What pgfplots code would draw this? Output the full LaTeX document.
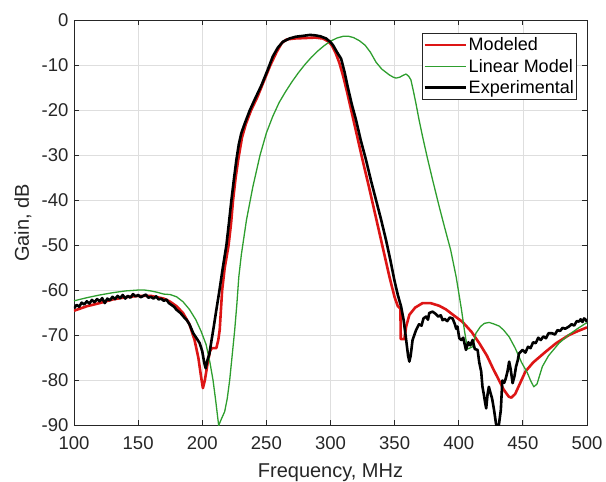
\documentclass[border=0pt]{standalone}
\usepackage{fontspec}
\setmainfont{Liberation Sans}
\usepackage{pgfplots}
\pgfplotsset{compat=1.18}
\definecolor{axisgray}{HTML}{262626}
\definecolor{mred}{HTML}{DD1515}
\definecolor{mgreen}{HTML}{2E9E2E}
\begin{document}
\begin{tikzpicture}
\useasboundingbox (-74pt,-56.5pt) rectangle (532pt,425.5pt);
\begin{axis}[
  at={(0,0)}, anchor=south west,
  scale only axis, width=513pt, height=405pt,
  xmin=100, xmax=500, ymin=-90, ymax=0,
  xtick={100,150,...,500}, ytick={-90,-80,...,0},
  grid=major,
  major grid style={draw=black!13, line width=0.6pt},
  axis line style={draw=axisgray, line width=0.8pt},
  tick style={draw=axisgray, line width=0.8pt},
  tick align=inside, major tick length=5pt,
  /pgf/number format/assume math mode=true,
  tick label style={font=\fontsize{18.5}{18.5}\selectfont, text=axisgray},
  xticklabel style={anchor=base, yshift=-24.5pt},
  yticklabel style={xshift=-2pt},
  label style={font=\fontsize{20}{20}\selectfont, text=axisgray},
  xlabel={Frequency, MHz},
  ylabel={Gain, dB},
  xlabel style={at={(axis description cs:0.5,-0.1296)}, anchor=base},
  ylabel style={at={(axis description cs:-0.0994,0.5)}, anchor=center},
  legend style={at={(rel axis cs:1,1)}, anchor=north east, xshift=-10pt, yshift=-12.5pt,
    draw=axisgray, line width=0.8pt, fill=white,
    font=\fontsize{18}{18}\selectfont, inner sep=1pt, row sep=0pt,
    nodes={inner xsep=1.8pt, inner ysep=3.4pt}},
  legend cell align=left,
  legend image code/.code={\draw[#1] (0pt,0pt) -- (41pt,0pt);},
  every axis plot/.append style={line join=round},
]
\addplot[mred, line width=2.6pt] table {
x y
100 -64.5
110 -63.5
120 -62.8
130 -62.0
140 -61.5
150 -61.2
160 -61.2
170 -61.8
175 -62.5
180 -63.5
185 -65.0
190 -67.5
194 -71
197 -75
199 -79
200.5 -81.7
202 -80
204 -76.5
206 -73.5
207.5 -72.8
211 -72.8
212.5 -71
213.6 -68.8
215.5 -60
217.5 -55
220.5 -50
222.5 -45
224 -40
226 -35
228 -31
231 -26
234 -23
238 -20
243 -17
248 -13.5
253 -10
258 -7
262 -5
266 -4.2
272 -4.0
280 -3.9
288 -3.8
294 -4.0
298 -4.6
301 -5.5
304 -7.2
307 -9.5
310 -12.5
313 -16
317 -21
321 -26
325 -31
330 -37
334 -42
338 -47
342 -52
346 -57
350 -61.5
352.5 -63.5
354.5 -64
354.8 -70.8
357.6 -70.8
359 -68
361.5 -65.4
366 -63.8
371.8 -62.8
378 -62.8
384.8 -63.4
390 -64.2
396 -65.5
403 -67
410 -69.2
416 -71.7
422 -74.5
427 -77.5
431.5 -80
435 -82
439 -83.6
441 -83.8
444 -83
448 -80.5
452 -78
458 -76
467.8 -73.6
476 -71.7
486 -69.9
493 -69
500 -68.2
};
\addlegendentry{Modeled}
\addplot[mgreen, line width=1.3pt] table {
x y
100 -62.3
110 -61.6
120 -61.0
130 -60.5
140 -60.1
150 -59.9
155 -59.9
160 -60.1
165 -60.4
170 -60.8
175 -60.9
180 -61.4
185 -62.5
190 -64.2
195 -66.5
199 -69
203 -72
206 -76
208.4 -79.9
210.5 -84.5
212.8 -90
215 -88.5
217.5 -86.9
219.5 -84
221.4 -79.9
223.3 -74.5
225.3 -68.8
227 -63
228.5 -57
230.5 -52
234.5 -44.3
239.5 -36.9
245 -30
250 -25
255 -21.3
260 -18.2
265 -15.8
270 -13.6
275 -11.6
280 -9.8
285 -8.2
290 -6.8
295 -5.6
300 -4.6
305 -3.9
310 -3.5
314 -3.5
318 -3.8
322.6 -4.5
327 -5.5
331 -7
335.6 -9.3
340 -10.8
345.9 -12.1
349 -12.6
351.1 -12.8
354 -12.6
356.5 -12.2
358.9 -11.9
361 -12.4
362.7 -13.2
364.5 -15.5
366.6 -18.4
369 -22
371.8 -25.8
375.5 -30.5
379.6 -35.4
384.8 -41.4
389 -46
393.7 -51
398 -57
402 -64
404.5 -69
406.8 -73
408.5 -72.8
410.8 -72.5
413.4 -69.5
417 -68
420 -67.3
423.7 -67.1
427 -67.4
431.5 -67.9
435 -68.8
439.3 -70.3
444 -72.8
449 -76
453.5 -78.3
456 -80
458.5 -81.4
461 -80.8
465.2 -76.9
470 -74.5
478.2 -71.7
486 -69.8
493 -68.4
499 -67.3
500 -67.2
};
\addlegendentry{Linear Model}
\addplot[black, line width=2.6pt] table {
x y
100 -64
102 -63.2
104 -63.6
106 -62.7
108 -63.1
110 -62.4
112 -62.9
114 -62.1
116 -62.6
118 -61.9
120 -62.4
122 -61.7
124 -62.8
126 -61.8
128 -62.2
130 -61.4
132 -61.9
134 -61.2
136 -61.7
138 -61.0
140 -61.8
142 -61.2
144 -61.6
146 -60.8
148 -61.3
150 -61.0
152 -61.5
154 -61.2
156 -60.9
158 -61.6
160 -61.4
162 -61.8
164 -61.3
166 -62.0
168 -61.8
170 -62.3
172 -62.0
174 -62.8
176 -63.2
178 -63.6
180 -64.3
183 -65.0
186 -66.0
188 -66.6
190 -67.5
193 -69.5
196 -70.8
198 -71.7
200 -73.5
201.5 -76
202.7 -77.3
204 -75.5
205.5 -74.2
207 -71.5
209 -68
211 -64.3
213.4 -60
216 -55
218.8 -50
220.8 -45
222.7 -40
224.6 -35.5
226.6 -31
228.5 -27.5
230.5 -25
233 -23
237 -20
241 -17.5
246 -14.5
251 -11
255 -8
259 -6
263 -4.7
268 -4.0
273 -3.6
279 -3.4
284 -3.2
288 -3.3
292 -3.5
296.6 -4.0
300 -4.8
302 -5.5
305 -7
308.3 -8.5
311 -11.5
313.4 -14.7
316.5 -18.5
319.9 -22.1
323.5 -26.5
327.7 -31
331.5 -35.5
335.5 -39.9
339.5 -44.3
343.3 -48.8
346.5 -53
349.8 -57.7
352.5 -61
355 -63.5
357 -66.5
359 -71
360.5 -74.5
361.5 -75.8
362.5 -74.5
364 -71
366.7 -68.8
369 -67.5
371 -67.8
372.5 -66.2
374.5 -65.8
376 -66.5
377 -65
379.6 -64.7
382 -65.2
384 -65.8
386 -65.5
387.4 -66.6
389 -66.3
391 -66.8
393 -66.0
395.2 -66.2
397 -67.5
398 -68.5
399 -68
400.4 -70.6
402 -71
403.5 -70.5
405.6 -73.2
407.5 -71.5
409 -72.2
410.8 -71
412.5 -73
414.7 -73.2
416 -76
417.5 -78
418.5 -81.4
419.5 -83
420.5 -84.8
421.4 -86.2
422.5 -83
423.5 -81.4
424.5 -82.5
426 -84
427.5 -86.5
429 -89.5
430 -91
431 -90.5
432.8 -86.6
434 -80
435.5 -80.5
436.7 -79.5
438 -78
439.3 -75.8
440.5 -77.5
442 -80.6
443.5 -79
444.6 -77
446 -75.5
447 -74
449.7 -73.2
452 -73.8
454 -72.5
456 -72.8
458 -71.5
460 -71.7
462 -70.5
464 -71
466 -70.2
468 -70.6
470 -69.5
472.8 -69.5
475 -69.8
477 -68.8
479 -69
481 -68.3
483 -68.5
486 -68
488 -67.5
490 -67.8
492 -66.8
493.8 -66.9
495 -66.4
496.5 -67
497.7 -66.2
499 -66.5
500 -67
};
\addlegendentry{Experimental}
\end{axis}
\end{tikzpicture}
\end{document}
